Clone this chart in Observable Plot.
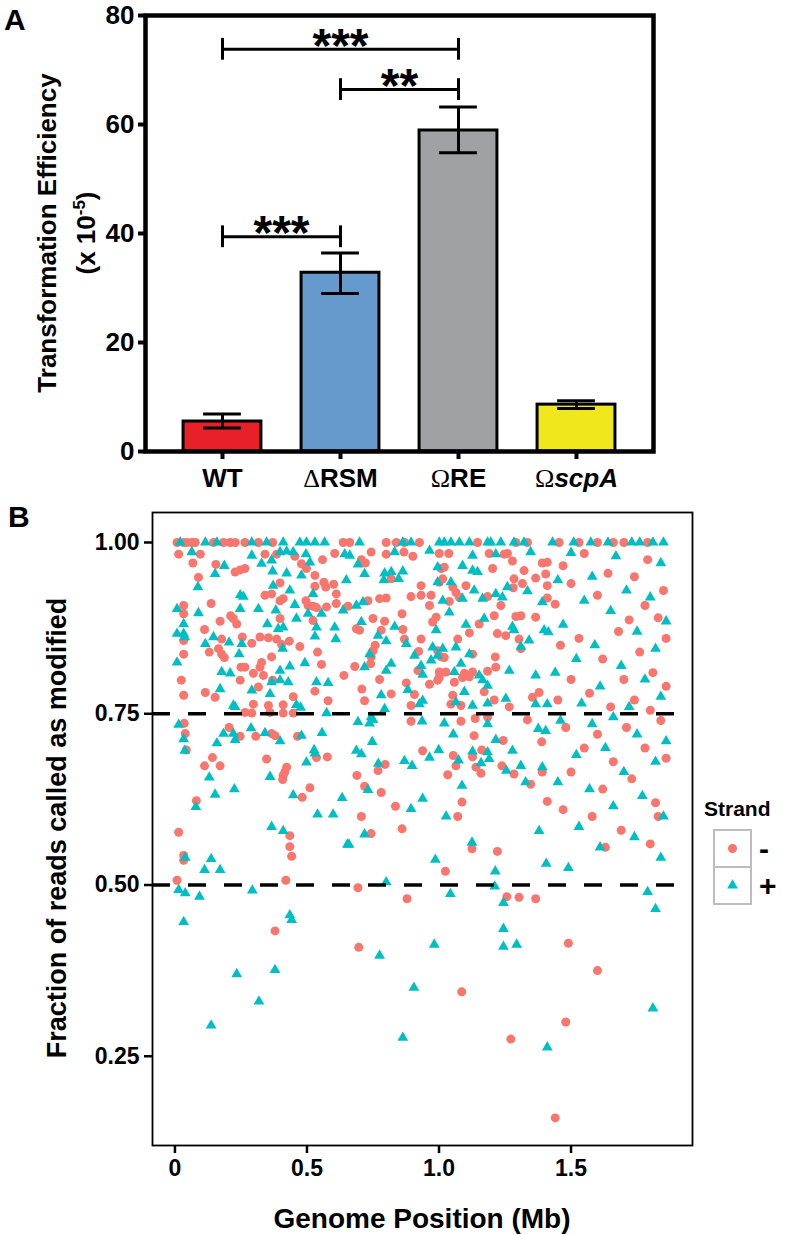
<!DOCTYPE html>
<html><head><meta charset="utf-8">
<script src="https://cdn.jsdelivr.net/npm/d3@7"></script>
<script src="https://cdn.jsdelivr.net/npm/@observablehq/plot@0.6"></script>
<style>
html,body{margin:0;padding:0;background:#fff;overflow:hidden;}
#wrap{position:relative;width:798px;height:1235px;}
#wrap svg{display:block;}
</style></head><body><div id="wrap"></div>
<script>
const FONT = '"Liberation Sans", Arial, Helvetica, sans-serif';

// ---------- Panel A data ----------
const strainPrefix = ["", "\u0394", "\u03A9", "\u03A9"];
const strainName = ["WT", "RSM", "RE", "scpA"];
const strainItalic = [false, false, false, true];
const meanEff = [5.5, 32.8, 58.9, 8.6];
const errLow = [4.3, 29.0, 54.8, 7.9];
const errHigh = [6.9, 36.4, 63.2, 9.3];
const barColors = ["#e8202a", "#6699cc", "#a0a1a4", "#f0e81c"];
const effTicks = [0, 20, 40, 60, 80];
const bracketFrom = [0, 1, 0];
const bracketTo = [2, 2, 1];
const bracketY = [73.8, 66.4, 39.4];
const bracketLabel = ["***", "**", "***"];

// ---------- Panel B data: [genome position (Mb), fraction modified] ----------
const minusStrand = [[0.008,1],[0.033,1],[0.045,1],[0.064,1],[0.077,1],[0.146,1],[0.184,1],[0.209,1],[0.228,1],[0.265,1],
[0.014,0.983],[0.096,0.983],[0.068,0.97],[0.155,0.968],[0.228,0.957],[0.247,0.96],[0.265,0.962],[0.089,0.949],[0.033,0.908],[0.137,0.911],[0.033,0.896],[0.211,0.893],[0.221,0.889],[0.234,0.881],[0.171,0.885],[0.112,0.873],[0.033,0.857],[0.177,0.859],[0.255,0.862],[0.13,0.84],[0.165,0.845],[0.177,0.837],[0.187,0.832],[0.033,0.837],[0.25,0.818],[0.265,0.818],[0.247,0.799],[0.024,0.799],[0.033,0.777],[0.115,0.781],[0.152,0.774],[0.265,0.752],
[0.316,1],[0.37,1],
[0.341,0.983],[0.385,0.983],[0.605,0.984],[0.454,0.98],[0.479,0.969],[0.498,0.962],[0.559,0.975],[0.53,0.952],[0.398,0.941],[0.564,0.942],[0.571,0.935],[0.601,0.939],[0.53,0.936],[0.611,0.925],[0.341,0.923],[0.366,0.925],[0.398,0.915],[0.41,0.918],[0.496,0.915],[0.504,0.908],[0.523,0.907],[0.536,0.905],[0.574,0.906],[0.611,0.911],[0.398,0.889],[0.523,0.886],[0.291,0.853],[0.322,0.862],[0.354,0.861],[0.385,0.859],[0.404,0.851],[0.433,0.856],[0.473,0.848],[0.54,0.84],[0.366,0.833],[0.328,0.825],[0.322,0.818],[0.555,0.822],[0.297,0.809],[0.335,0.806],[0.37,0.799],[0.316,0.789],[0.53,0.783],[0.448,0.775],[0.297,0.764],[0.354,0.762],[0.41,0.763],[0.58,0.769],[0.291,0.751],[0.36,0.752],[0.41,0.751],[0.448,0.751],
[0.637,1],[0.662,1],[0.8,1],[0.838,1],[0.869,1],[0.926,1],
[0.743,0.986],[0.8,0.983],[0.867,0.986],[0.901,0.98],[0.706,0.975],[0.721,0.97],[0.819,0.947],[0.932,0.937],[0.894,0.921],[0.932,0.923],[0.97,0.923],[0.775,0.918],[0.8,0.919],[0.731,0.915],[0.964,0.908],[0.655,0.907],[0.86,0.896],[0.989,0.891],[0.976,0.884],[0.75,0.889],[0.794,0.885],[0.687,0.874],[0.699,0.872],[0.863,0.873],[0.781,0.872],[0.869,0.859],[0.932,0.859],[0.758,0.85],[0.75,0.842],[0.743,0.833],[0.923,0.841],[0.741,0.823],[0.681,0.819],[0.92,0.813],[0.64,0.806],[0.775,0.8],[0.876,0.795],[0.964,0.793],[0.708,0.786],[0.819,0.779],[0.907,0.778],[0.718,0.769],[0.894,0.762],
[1.146,1],[1.291,1],[1.335,1],
[1.001,0.984],[1.037,0.984],[1.19,0.984],[1.247,0.983],[1.259,0.984],[1.278,0.973],[1.391,0.97],[1.41,0.971],[1.02,0.964],[1.008,0.962],[1.203,0.962],[1.322,0.959],[1.404,0.954],[1.014,0.947],[1.001,0.942],[1.284,0.947],[1.366,0.948],[1.316,0.94],[1.052,0.935],[1.064,0.927],[1.077,0.92],[1.102,0.937],[1.281,0.934],[1.41,0.937],[1.039,0.914],[1.184,0.921],[1.234,0.908],[1.41,0.919],[1.209,0.893],[1.291,0.892],[1.31,0.893],[1.366,0.891],[1.152,0.881],[1.115,0.868],[1.221,0.867],[1.253,0.864],[1.071,0.859],[1.303,0.859],[1.31,0.845],[0.995,0.842],[1.127,0.837],[1.008,0.833],[1.02,0.832],[1.213,0.833],[1.215,0.818],[1.001,0.811],[1.026,0.811],[1.096,0.809],[1.127,0.811],[1.184,0.812],[1.001,0.803],[0.995,0.799],[1.089,0.803],[1.115,0.804],[1.058,0.796],[1.171,0.782],[1.052,0.777],[1.354,0.774],[1.379,0.781],[1.209,0.77],[1.045,0.764],[1.083,0.762],[1.266,0.76],
[0.035,0.736],[0.039,0.721],[0.043,0.697],[0.205,0.73],[0.247,0.717],[0.306,0.717],[0.366,0.721],[0.379,0.718],[0.464,0.717],[0.536,0.686],[0.577,0.687],[0.347,0.684],[0.112,0.674],[0.142,0.686],[0.171,0.674],[0.423,0.672],[0.416,0.665],[0.41,0.66],[0.408,0.654],[0.511,0.642],[0.482,0.628],[0.081,0.623],[0.435,0.572],[0.435,0.556],[0.442,0.542],[0.014,0.577],[0.033,0.543],[0.033,0.536],
[0.894,0.739],[1.083,0.739],[1.137,0.743],[1.184,0.745],[1.335,0.741],[1.389,0.709],[1.133,0.718],[1.243,0.711],[0.938,0.696],[1.054,0.689],[1.162,0.697],[1.127,0.687],[1.14,0.672],[1.159,0.663],[0.796,0.676],[0.769,0.667],[1.064,0.674],[1.033,0.661],[1.238,0.674],[1.284,0.662],[1.391,0.665],[1.347,0.647],[0.689,0.66],[0.718,0.644],[0.781,0.635],[1.087,0.621],[0.835,0.615],[1.071,0.6],[1.41,0.622],[0.706,0.6],[0.86,0.582],[0.743,0.575],[1.125,0.553],[1.221,0.549],[1.024,0.52],
[0.008,0.507],[0.42,0.507],[0.693,0.496],[0.879,0.48],[1.257,0.483],[1.303,0.482],[1.366,0.48],[0.379,0.433],[0.696,0.409],[1.086,0.344],[1.272,0.275],
[1.455,1],[1.53,1],[1.6,1],[1.66,1],[1.7,1],[1.79,1],
[1.47,0.966],[1.55,0.984],[1.74,0.95],[1.79,0.975],[1.6,0.923],[1.78,0.908],[1.72,0.887],[1.5,0.94],[1.44,0.91],[1.64,0.955],[1.85,0.93],[1.83,0.89],[1.68,0.87],[1.53,0.86],[1.46,0.85],[1.76,0.84],[1.86,0.86],[1.62,0.83],[1.81,0.81],[1.5,0.8],[1.7,0.8],[1.57,0.78],[1.86,0.79],[1.45,0.77],[1.65,0.76],[1.8,0.755],[1.74,0.77],
[1.48,0.73],[1.6,0.72],[1.71,0.73],[1.84,0.74],[1.55,0.7],[1.78,0.7],[1.66,0.68],[1.86,0.685],[1.5,0.665],[1.73,0.655],[1.62,0.64],[1.82,0.62],[1.47,0.61],[1.58,0.6],[1.69,0.58],[1.83,0.6],[1.8,0.56],[1.63,0.555],
[1.49,0.415],[1.6,0.375],[1.48,0.3],[1.44,0.16]];

const plusStrand = [[0.02,1],[0.115,1],[0.159,1],
[0.064,0.986],[0.187,0.966],[0.152,0.954],[0.087,0.935],[0.247,0.923],[0.259,0.921],[0.008,0.903],[0.089,0.897],[0.247,0.903],[0.033,0.881],[0.008,0.867],[0.033,0.867],[0.037,0.862],[0.146,0.862],[0.115,0.852],[0.205,0.854],[0.253,0.852],[0.008,0.825],[0.243,0.837],[0.177,0.811],[0.209,0.809],[0.171,0.786],[0.221,0.762],[0.228,0.76],
[0.291,1],[0.347,1],[0.41,1],[0.473,1],[0.498,1],[0.53,1],[0.567,1],
[0.291,0.981],[0.398,0.986],[0.423,0.987],[0.448,0.986],[0.496,0.983],[0.328,0.969],[0.366,0.974],[0.511,0.971],[0.37,0.958],[0.423,0.955],[0.479,0.952],[0.372,0.937],[0.435,0.93],[0.523,0.925],[0.454,0.909],[0.316,0.903],[0.382,0.901],[0.504,0.896],[0.555,0.896],[0.46,0.889],[0.35,0.881],[0.391,0.874],[0.41,0.876],[0.536,0.876],[0.605,0.876],[0.53,0.863],[0.609,0.859],[0.408,0.845],[0.435,0.819],[0.492,0.824],[0.398,0.813],[0.398,0.799],[0.429,0.796],[0.366,0.796],[0.536,0.796],[0.58,0.795],[0.291,0.784],[0.36,0.779],[0.46,0.763],[0.476,0.759],[0.574,0.751],
[0.699,1],[0.863,1],[0.894,1],
[0.643,0.983],[0.662,0.981],[0.832,0.986],[0.964,0.988],[0.693,0.968],[0.718,0.954],[0.649,0.945],[0.794,0.955],[0.819,0.957],[0.863,0.958],[0.791,0.945],[0.847,0.947],[0.995,0.964],[0.995,0.942],[0.687,0.908],[0.712,0.913],[0.637,0.901],[0.706,0.884],[0.832,0.877],[0.989,0.872],[0.769,0.864],[0.8,0.856],[0.876,0.852],[0.737,0.837],[0.976,0.847],[0.907,0.835],[0.97,0.828],[0.995,0.835],[0.718,0.818],[0.819,0.823],[0.8,0.813],[0.932,0.82],[0.938,0.807],[0.882,0.785],[0.781,0.777],[0.926,0.764],[0.938,0.769],[0.794,0.757],
[1.001,1],[1.02,1],[1.045,1],[1.077,1],[1.115,1],[1.184,1],[1.196,1],[1.234,1],[1.284,1],[1.322,1],
[1.127,0.981],[1.215,0.983],[1.347,0.986],[1.089,0.966],[1.127,0.959],[1.146,0.957],[1.045,0.942],[1.133,0.93],[1.259,0.935],[1.335,0.929],[1.014,0.915],[1.089,0.918],[1.165,0.918],[1.215,0.925],[1.24,0.92],[1.391,0.913],[1.039,0.898],[1.171,0.889],[1.102,0.88],[1.278,0.877],[1.284,0.872],[1.398,0.872],[1.414,0.869],[1.341,0.857],[1.31,0.848],[1.014,0.845],[1.064,0.847],[1.115,0.837],[1.083,0.823],[1.058,0.811],[1.266,0.813],[1.366,0.806],[1.152,0.806],[1.165,0.799],[1.184,0.791],[1.096,0.782],[1.253,0.772],[1.366,0.764],[1.064,0.767],[1.184,0.765],[1.127,0.762],[1.41,0.764],
[0.014,0.734],[0.033,0.713],[0.037,0.696],[0.159,0.707],[0.184,0.721],[0.221,0.721],[0.228,0.712],[0.288,0.729],[0.341,0.722],[0.398,0.71],[0.479,0.718],[0.557,0.722],[0.527,0.697],[0.53,0.692],[0.498,0.679],[0.13,0.657],[0.36,0.658],[0.152,0.632],[0.225,0.64],[0.448,0.631],[0.633,0.627],[0.079,0.614],[0.54,0.603],[0.599,0.603],[0.366,0.585],[0.41,0.579],[0.653,0.559],[0.039,0.54],[0.137,0.538],[0.112,0.522],[0.171,0.522],
[0.693,0.738],[0.737,0.736],[0.75,0.741],[0.743,0.745],[0.936,0.739],[1.02,0.736],[1.184,0.735],[1.376,0.728],[1.404,0.725],[1.054,0.72],[0.747,0.709],[1.215,0.712],[1.278,0.696],[0.687,0.696],[0.706,0.691],[0.999,0.697],[0.964,0.686],[1.074,0.682],[1.127,0.695],[1.184,0.694],[1.19,0.684],[1.159,0.678],[0.77,0.677],[0.869,0.681],[0.898,0.674],[1.255,0.667],[1.31,0.674],[1.391,0.672],[1.328,0.65],[0.731,0.639],[1.087,0.645],[0.938,0.626],[0.894,0.611],[1.027,0.6],[0.718,0.574],[0.659,0.559],[1.379,0.579],[1.125,0.562],[0.986,0.537],[1.213,0.52],[1.406,0.531],
[0.014,0.493],[0.039,0.488],[0.093,0.483],[0.293,0.492],[0.8,0.504],[1.043,0.487],[1.211,0.498],[1.244,0.474],[0.033,0.446],[0.435,0.456],[0.442,0.449],[0.775,0.397],[0.982,0.413],[1.244,0.436],[1.244,0.41],[1.294,0.413],[0.234,0.37],[0.379,0.376],[0.318,0.33],[0.905,0.35],[0.137,0.295],[0.863,0.277],[1.41,0.263],
[1.43,1],[1.51,1],[1.575,1],[1.64,1],[1.73,1],[1.76,1],[1.81,1],[1.85,1],
[1.5,0.985],[1.67,0.98],[1.84,0.97],[1.58,0.95],[1.45,0.945],[1.71,0.93],[1.55,0.915],[1.8,0.92],[1.65,0.9],[1.47,0.88],[1.86,0.885],[1.75,0.87],[1.59,0.85],[1.82,0.845],[1.52,0.83],[1.69,0.82],[1.44,0.81],[1.78,0.8],[1.61,0.79],[1.84,0.775],[1.54,0.765],[1.72,0.76],
[1.46,0.74],[1.66,0.745],[1.58,0.735],[1.75,0.72],[1.86,0.71],[1.52,0.69],[1.63,0.7],[1.82,0.68],[1.7,0.665],[1.45,0.65],[1.57,0.64],[1.77,0.63],[1.66,0.615],[1.85,0.6],[1.53,0.585],[1.74,0.57],[1.61,0.555],[1.84,0.54],[1.49,0.525],
[1.79,0.49],[1.82,0.465],[1.81,0.32]];

const cutoffs = [0.5, 0.75];
const fracTicks = [0.25, 0.5, 0.75, 1.0];
const posTicks = [0, 0.5, 1.0, 1.5];
const strandLabels = ["-", "+"];
const strandColors = ["#F8766D", "#00BFC4"];

const wrap = document.getElementById("wrap");

// ---------- Panel A ----------
const bars = meanEff.map((m, i) => ({i, m, lo: errLow[i], hi: errHigh[i], c: barColors[i]}));
const brackets = bracketY.map((y, k) => ({a: bracketFrom[k], b: bracketTo[k], y, t: bracketLabel[k]}));
const halfBar = 0.33, halfCap = 0.16, bracketTick = 2.0;

const plotA = Plot.plot({
  width: 798, height: 500,
  marginLeft: 145, marginRight: 145, marginTop: 15, marginBottom: 49,
  style: {fontFamily: FONT, background: "white", color: "black"},
  x: {domain: [-0.6525, 3.6525], axis: null},
  y: {domain: [0, 80], axis: null},
  color: {type: "identity"},
  marks: [
    Plot.rectY(bars, {x1: d => d.i - halfBar, x2: d => d.i + halfBar, y1: 0, y2: "m", fill: "c", stroke: "black", strokeWidth: 3}),
    Plot.ruleX(bars, {x: "i", y1: "lo", y2: "hi", stroke: "black", strokeWidth: 3}),
    Plot.ruleY(bars, {x1: d => d.i - halfCap, x2: d => d.i + halfCap, y: "hi", stroke: "black", strokeWidth: 3}),
    Plot.ruleY(bars, {x1: d => d.i - halfCap, x2: d => d.i + halfCap, y: "lo", stroke: "black", strokeWidth: 3}),
    Plot.ruleY(brackets, {x1: "a", x2: "b", y: "y", stroke: "black", strokeWidth: 3}),
    Plot.ruleX(brackets, {x: "a", y1: d => d.y - bracketTick, y2: d => d.y + bracketTick, stroke: "black", strokeWidth: 3}),
    Plot.ruleX(brackets, {x: "b", y1: d => d.y - bracketTick, y2: d => d.y + bracketTick, stroke: "black", strokeWidth: 3}),
    Plot.text(brackets, {x: d => (d.a + d.b) / 2, y: "y", text: "t", dy: -3, fontSize: 48, fontWeight: "bold", fill: "black"}),
    Plot.frame({stroke: "black", strokeWidth: 4.5}),
    Plot.axisY({ticks: effTicks, tickSize: 7, tickPadding: 4, fontSize: 26, fontWeight: "bold", strokeWidth: 4, label: null, tickFormat: d => String(d)}),
    Plot.axisX({ticks: [0, 1, 2, 3], tickSize: 8, tickPadding: 9, fontSize: 26, fontWeight: "bold", strokeWidth: 4, label: null,
      tickFormat: i => strainPrefix[i] + strainName[i]})
  ]
});
wrap.appendChild(plotA);

// rich-text category labels
d3.select(plotA).selectAll('g[aria-label="x-axis tick label"] text').each(function(_, k) {
  const t = d3.select(this);
  t.text(null);
  if (strainPrefix[k]) t.append("tspan").attr("font-weight", "normal").attr("font-family", '"Liberation Serif", serif').text(strainPrefix[k]);
  t.append("tspan").attr("font-style", strainItalic[k] ? "italic" : null).text(strainName[k]);
});

{
  const g = d3.select(plotA).append("g").attr("font-family", FONT).attr("font-weight", "bold").attr("fill", "black");
  g.append("text").attr("x", 4).attr("y", 30).attr("text-anchor", "start").attr("font-size", 30).text("A");
  g.append("text").attr("transform", "translate(47,233) rotate(-90)").attr("text-anchor", "middle")
    .attr("dy", "0.35em").attr("font-size", 26).text("Transformation Efficiency");
  const t2 = g.append("text").attr("transform", "translate(86,233) rotate(-90)").attr("text-anchor", "middle")
    .attr("dy", "0.35em").attr("font-size", 26);
  t2.append("tspan").text("(x 10");
  t2.append("tspan").attr("dy", -10).attr("font-size", 17).text("-5");
  t2.append("tspan").attr("dy", 10).text(")");
}

// ---------- Panel B ----------
const plotB = Plot.plot({
  width: 798, height: 735,
  marginLeft: 152, marginRight: 106, marginTop: 12, marginBottom: 90,
  style: {fontFamily: FONT, background: "white", color: "black"},
  x: {domain: [-0.085, 1.96], axis: null},
  y: {domain: [0.1197, 1.0438], axis: null},
  marks: [
    Plot.dot(minusStrand, {x: d => d[0], y: d => d[1], r: 4.5, fill: strandColors[0], stroke: "none"}),
    Plot.dot(plusStrand, {x: d => d[0], y: d => d[1], symbol: "triangle", r: 4.0, fill: strandColors[1], stroke: "none"}),
    Plot.ruleY(cutoffs, {stroke: "black", strokeWidth: 3.5, strokeDasharray: "18,18"}),
    Plot.frame({stroke: "black", strokeWidth: 1.8}),
    Plot.axisY({ticks: fracTicks, tickFormat: d => d.toFixed(2), tickSize: 8, tickPadding: 5, fontSize: 23, fontWeight: "bold", strokeWidth: 2.5, label: null}),
    Plot.axisX({ticks: posTicks, tickFormat: d => d === 0 ? "0" : d.toFixed(1), tickSize: 8, tickPadding: 6, fontSize: 23, fontWeight: "bold", strokeWidth: 2.5, label: null})
  ]
});
wrap.appendChild(plotB);

{
  const svg = d3.select(plotB);
  const g = svg.append("g").attr("font-family", FONT).attr("font-weight", "bold").attr("fill", "black");
  g.append("text").attr("x", 8).attr("y", 27).attr("text-anchor", "start").attr("font-size", 30).text("B");
  g.append("text").attr("transform", "translate(57,328) rotate(-90)").attr("text-anchor", "middle")
    .attr("dy", "0.35em").attr("font-size", 27).text("Fraction of reads called as modified");
  g.append("text").attr("x", 422).attr("y", 728).attr("text-anchor", "middle").attr("font-size", 28).text("Genome Position (Mb)");

  // legend
  const lg = svg.append("g").attr("transform", "translate(704,0)");
  lg.append("text").attr("x", 0).attr("y", 316).attr("text-anchor", "start").attr("font-size", 21)
    .attr("font-family", FONT).attr("font-weight", "bold").text("Strand");
  const keyTop = 330, keySize = 37, keyX = 10;
  strandLabels.forEach((lab, k) => {
    const y0 = keyTop + k * keySize;
    lg.append("rect").attr("x", keyX).attr("y", y0).attr("width", keySize).attr("height", keySize)
      .attr("fill", "white").attr("stroke", "#bdbdbd").attr("stroke-width", 2);
    const sym = k === 0 ? d3.symbol(d3.symbolCircle, Math.PI * 4.5 * 4.5) : d3.symbol(d3.symbolTriangle, Math.PI * 4 * 4);
    lg.append("path").attr("d", sym()).attr("transform", `translate(${keyX + keySize / 2},${y0 + keySize / 2})`).attr("fill", strandColors[k]);
    lg.append("text").attr("x", keyX + keySize + 8).attr("y", y0 + keySize / 2).attr("dy", "0.35em").attr("text-anchor", "start")
      .attr("font-size", 30).attr("font-family", FONT).attr("font-weight", "bold").text(lab);
  });
}
</script></body></html>
